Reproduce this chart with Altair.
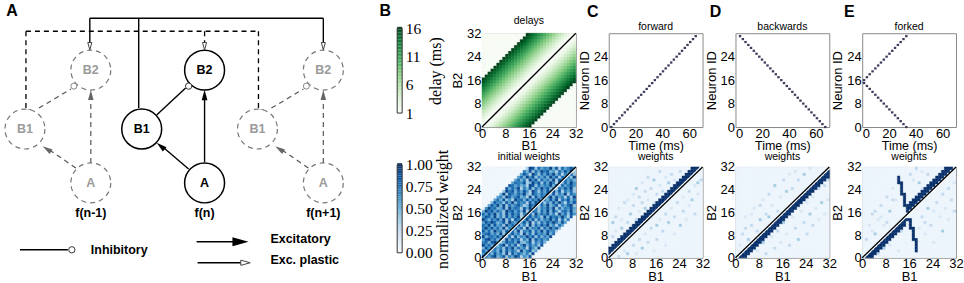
import altair as alt
import pandas as pd

# ------------------------------------------------------------------ data
N = 32
TICKS32 = [0, 8, 16, 24, 32]
band_half_width = 16
delay_by_offset = [1, 1, 2, 3, 4, 5, 6, 7, 8, 9, 10, 11, 12, 13, 14, 15, 16]

# initial weights (digit d -> weight level), row index = B2 (0 at bottom)
init_rows = [
    "86479358264971538462957384615927",
    "59738462918475362948571639482756",
    "74956382847519368247596138472958",
    "38597462859374618529473869152748",
    "95748369274815937462859371648529",
    "67389524867493258164739582647193",
    "48957362948571639285746391857462",
    "93675849271836495827364958172649",
    "57846392758461937285649372851694",
    "84739562847391658274938561749382",
    "69584739265847193658274958361847",
    "75938462957483619274859361748592",
    "48697358296475839162748596384759",
    "96375849271863594827365948172639",
    "58749362847591368475293867495182",
    "74859362948571638294758361947285",
    "39684752968473915862749385167493",
    "85967348295761849372658491736584",
    "67485939274685139682749358164792",
    "94738562849375618495726384951748",
    "58694738251967384759263849175836",
    "73859462974683519284765938461729",
    "49675839286475931864759382649175",
    "86947352968374851962748593816472",
    "57389462847591638274958361748592",
    "94768352987463519827465938174685",
    "68495738294765813958274961837495",
    "75849362958473619582746391857463",
    "49675839261847395826473958174629",
    "86937452968374851962748593716482",
    "57489362847591638274968351748592",
    "94768352987463519827465938174685",
]

fwd_band_offsets = [1, 2, 3]
bwd_band_offsets = [-1, -2, -3]
fork_split_b1 = 15
fork_zigzag = [(12, 28), (12, 27), (12, 26), (13, 26), (13, 25), (13, 24), (13, 23),
               (13, 22), (14, 22), (14, 21), (14, 20), (14, 19), (14, 18), (15, 17),
               (14, 13), (15, 13), (16, 13), (16, 12), (16, 11), (16, 10), (17, 10),
               (17, 9), (17, 8), (17, 7), (17, 6), (18, 6), (18, 5), (18, 4), (18, 3), (18, 2)]

c_faint = [(1, 7, 2), (1, 12, 3), (2, 9, 1), (2, 14, 2), (3, 5, 2), (3, 17, 1), (4, 10, 3), (4, 13, 1),
           (5, 8, 1), (5, 19, 2), (6, 12, 2), (6, 20, 1), (7, 15, 3), (7, 10, 1), (8, 18, 2), (8, 22, 1),
           (9, 13, 2), (9, 24, 3), (10, 16, 1), (10, 21, 2), (11, 19, 2), (11, 26, 1), (12, 17, 3),
           (12, 23, 2), (13, 20, 1), (13, 28, 2), (14, 24, 2), (15, 19, 1), (15, 27, 3), (16, 22, 2),
           (17, 25, 1), (17, 30, 2), (18, 23, 2), (19, 28, 1), (20, 26, 3), (21, 29, 2), (22, 27, 1),
           (24, 30, 2), (3, 0, 2), (5, 2, 1), (6, 1, 3), (8, 4, 2), (9, 1, 1), (10, 6, 2), (11, 3, 3),
           (12, 8, 1), (13, 5, 2), (14, 10, 2), (15, 2, 1), (16, 11, 3), (16, 6, 2), (17, 13, 1),
           (18, 9, 2), (19, 15, 2), (19, 4, 1), (20, 12, 3), (21, 17, 1), (22, 14, 2), (22, 8, 1),
           (23, 19, 2), (24, 11, 3), (25, 21, 1), (25, 16, 2), (26, 13, 1), (27, 23, 2), (27, 18, 1),
           (28, 20, 3), (29, 25, 1), (29, 15, 2), (30, 22, 1), (31, 27, 2), (30, 26, 3)]
d_faint = [(2, 8, 2), (3, 14, 1), (4, 6, 3), (5, 11, 2), (6, 17, 1), (7, 9, 2), (8, 13, 3), (9, 20, 1),
           (10, 15, 2), (11, 22, 2), (12, 18, 1), (13, 25, 3), (14, 16, 2), (15, 21, 1), (16, 27, 2),
           (17, 23, 3), (18, 29, 1), (19, 24, 2), (20, 30, 1), (21, 27, 2), (23, 29, 3), (25, 31, 1),
           (1, 4, 1), (6, 3, 2), (7, 2, 1), (9, 5, 3), (10, 1, 2), (12, 7, 1), (13, 3, 2), (14, 9, 2),
           (15, 5, 1), (16, 12, 3), (17, 8, 1), (18, 4, 2), (19, 14, 1), (20, 10, 2), (21, 6, 3),
           (22, 16, 1), (23, 12, 2), (24, 19, 1), (24, 8, 2), (25, 15, 3), (26, 21, 1), (26, 11, 2),
           (27, 17, 1), (28, 24, 2), (28, 13, 1), (29, 19, 3), (30, 15, 1), (30, 25, 2), (31, 20, 1),
           (31, 27, 2), (3, 10, 2), (5, 15, 1), (8, 18, 2), (11, 14, 3), (4, 1, 1)]
e_faint = [(1, 6, 2), (2, 11, 1), (3, 15, 2), (4, 8, 3), (5, 13, 1), (6, 18, 2), (7, 11, 1), (8, 21, 2),
           (9, 16, 3), (10, 24, 1), (10, 20, 2), (16, 29, 2), (17, 27, 1), (18, 31, 2), (19, 26, 3),
           (20, 30, 1), (22, 29, 2), (2, 0, 1), (5, 1, 2), (7, 3, 3), (9, 4, 1), (10, 7, 2), (12, 2, 1),
           (13, 9, 2), (20, 14, 2), (21, 8, 1), (22, 17, 3), (23, 11, 2), (24, 5, 1), (25, 19, 2),
           (26, 14, 1), (27, 22, 2), (27, 9, 3), (28, 17, 1), (29, 24, 2), (29, 13, 1), (30, 20, 2),
           (31, 26, 1), (31, 16, 2), (19, 10, 1), (21, 12, 2), (24, 16, 1), (6, 14, 1), (4, 16, 2),
           (3, 9, 1), (8, 12, 2), (11, 20, 1), (20, 24, 1)]

# spike rasters (ms, neuron id)
fwd_neurons = list(range(32))
fwd_times = [1.0, 3.0, 5.0, 7.1, 9.1, 11.1, 13.2, 15.2, 17.2, 19.3, 21.3, 23.3, 25.4, 27.4, 29.4, 31.5,
             33.5, 35.5, 37.6, 39.6, 41.6, 43.7, 45.7, 47.7, 49.8, 51.8, 53.8, 55.9, 57.9, 59.9, 62.0, 64.0]
bwd_neurons = list(range(31, -1, -1))
bwd_times = [2.5, 4.6, 6.6, 8.7, 10.7, 12.8, 14.8, 16.9, 18.9, 21.0, 23.0, 25.1, 27.1, 29.2, 31.2, 33.3,
             35.3, 37.4, 39.4, 41.5, 43.5, 45.6, 47.6, 49.7, 51.7, 53.8, 55.8, 57.9, 59.9, 62.0, 64.0, 66.1]
fork_up_neurons = list(range(16, 32))
fork_dn_neurons = list(range(15, -1, -1))
fork_times = [0.5, 2.6, 4.7, 6.8, 8.9, 11.0, 13.1, 15.2, 17.3, 19.4, 21.5, 23.6, 25.7, 27.8, 29.9, 32.0]
dash_ms = 1.8

# diagram (panel A), units in diagram space
node_x = [88, 22, 88, 202, 139, 202, 321, 255, 321]
node_y = [70, 129, 183, 70, 129, 183, 70, 129, 183]
node_label = ["B2", "B1", "A", "B2", "B1", "A", "B2", "B1", "A"]
node_kind = ["ghost"] * 3 + ["main"] * 3 + ["ghost"] * 3

seg_x1 = [87, 87, 136, 321, 202, 186, 154, 17, 194, 195,
          23, 23, 23, 202, 256, 256,
          88, 73, 36, 321, 306, 269]
seg_y1 = [18, 18, 18, 18, 162, 169, 115, 250, 242, 263,
          31, 31, 110, 31, 31, 110,
          163, 168, 108, 163, 168, 108]
seg_x2 = [321, 87, 136, 321, 202, 159, 183, 65, 234, 240,
          256, 23, 28, 202, 256, 262,
          88, 45, 68, 321, 278, 301]
seg_y2 = [18, 45, 108, 45, 99, 146, 88, 250, 242, 263,
          31, 110, 110, 45, 110, 110,
          99, 149, 89, 99, 149, 89]
seg_kind = ["solid"] * 10 + ["bus"] * 6 + ["ghost"] * 6

arrow_x = [202, 158, 238, 88, 44, 321, 277]
arrow_y = [95, 146, 242, 95, 149, 95, 149]
arrow_angle = [0, 310, 90, 0, 303, 0, 303]
arrow_size = [110, 110, 260, 100, 100, 100, 100]
arrow_kind = ["main", "main", "main", "ghost", "ghost", "ghost", "ghost"]

open_arrow_x = [87, 202, 321, 243]
open_arrow_y = [46, 46, 46, 263]
open_arrow_angle = [180, 180, 180, 90]
open_arrow_size = [55, 55, 55, 90]

inhib_x = [186, 71, 304, 69]
inhib_y = [86, 86, 86, 250]
inhib_kind = ["main", "ghost", "ghost", "main"]

label_text = ["f(n-1)", "f(n)", "f(n+1)"]
label_x = [88, 202, 321]
label_y = [213, 213, 213]
legend_text = ["Inhibitory", "Excitatory", "Exc. plastic"]
legend_x = [88, 268, 268]
legend_y = [250, 239, 260]

panel_letters = ["A", "B", "C", "D", "E"]
panel_letter_x = [9, 383, 591, 714, 848]
panel_letter_y = [11, 11, 12, 12, 12]

BLUES = ["#f7fbff", "#deebf7", "#c6dbef", "#9ecae1", "#6baed6", "#4292c6", "#2171b5", "#08519c", "#08306b"]
GREENS = ["#f7fcf5", "#e5f5e0", "#c7e9c0", "#a1d99b", "#74c476", "#41ab5d", "#238b45", "#006d2c", "#00441b"]

FONT = "Liberation Sans"
SERIF = "Liberation Serif"

PW, PH_TOP, PH_BOT = 94, 94, 91
FRAME = alt.ViewBackground(stroke="#8a8a8a", strokeWidth=1)


def green_scale():
    return alt.Scale(domain=[1 + 15 * i / 8 for i in range(9)], range=GREENS, clamp=True)


def blue_scale():
    return alt.Scale(domain=[i / 8 for i in range(9)], range=BLUES, clamp=True)


# ------------------------------------------------------------------ builders
def delay_df():
    rows = []
    for b2 in range(N):
        for b1 in range(N):
            off = abs(b2 - b1)
            v = delay_by_offset[off] if off <= band_half_width else 0
            rows.append(dict(b1=b1, b1e=b1 + 1, b2=b2, b2e=b2 + 1, v=v))
    return pd.DataFrame(rows)


def init_df():
    rows = []
    for b2 in range(N):
        for b1 in range(N):
            off = abs(b2 - b1)
            v = 0.25 + 0.075 * int(init_rows[b2][b1]) if off <= band_half_width else 0.03
            rows.append(dict(b1=b1, b1e=b1 + 1, b2=b2, b2e=b2 + 1, v=v))
    return pd.DataFrame(rows)


def final_df(faint, band_fn, extra=()):
    vals = {}
    for b1, b2, d in faint:
        vals[(b1, b2)] = d / 10 + 0.06
    for b1 in range(N):
        for off in band_fn(b1):
            b2 = b1 + off
            if 0 <= b2 < N:
                vals[(b1, b2)] = 1.0
    for c in extra:
        vals[c] = 1.0
    rows = []
    for b2 in range(N):
        for b1 in range(N):
            rows.append(dict(b1=b1, b1e=b1 + 1, b2=b2, b2e=b2 + 1, v=vals.get((b1, b2), 0.05)))
    return pd.DataFrame(rows)


def axis32(title, xaxis):
    return alt.Axis(values=TICKS32, tickCount=10, title=title, labelFontSize=13, titleFontSize=13,
                    titleFontWeight="normal", domain=False, ticks=False, grid=False,
                    labelPadding=0 if xaxis else 1, titlePadding=0 if xaxis else 2,
                    labelFlush=False, labelOverlap=False)


def heat(df, scale, title, white_off=None, height=PH_TOP, title_offset=1):
    sc = alt.Scale(domain=[0, 32], nice=False, zero=False)
    xax, yax = axis32("B1", True), axis32("B2", False)
    rect = alt.Chart(df).mark_rect(strokeWidth=0.4).encode(
        x=alt.X("b1:Q", scale=sc, axis=xax),
        x2="b1e:Q",
        y=alt.Y("b2:Q", scale=sc, axis=yax),
        y2="b2e:Q",
        color=alt.Color("v:Q", scale=scale, legend=None),
        stroke=alt.Stroke("v:Q", scale=scale, legend=None),
    )
    layers = [rect]
    if white_off is not None:
        wd = pd.DataFrame(dict(x=[max(0, -white_off)], y=[max(0, white_off)],
                               x2=[32 - max(0, white_off)], y2=[32 - max(0, -white_off)]))
        layers.append(alt.Chart(wd).mark_rule(color="white", strokeWidth=1.3).encode(
            x=alt.X("x:Q", axis=xax), y=alt.Y("y:Q", axis=yax), x2="x2:Q", y2="y2:Q"))
    dd = pd.DataFrame(dict(x=[0], y=[0], x2=[32], y2=[32]))
    layers.append(alt.Chart(dd).mark_rule(color="black", strokeWidth=1.3).encode(
        x=alt.X("x:Q", axis=xax), y=alt.Y("y:Q", axis=yax), x2="x2:Q", y2="y2:Q"))
    return alt.layer(*layers).properties(
        width=PW, height=height, view=FRAME,
        title=alt.TitleParams(title, fontSize=10.5, font=FONT, fontWeight="normal", offset=title_offset))


def raster(times, neurons, title):
    df = pd.DataFrame(dict(t=times, n=neurons))
    df["t2"] = df["t"] + dash_ms
    return alt.Chart(df).mark_rule(color="#3b3b5c", strokeWidth=2.2).encode(
        x=alt.X("t:Q", scale=alt.Scale(domain=[0, 70], nice=False),
                axis=alt.Axis(values=[0, 20, 40, 60], tickCount=10, title="Time (ms)", labelFontSize=13,
                              titleFontSize=12.5, titleFontWeight="normal", domain=False,
                              ticks=False, grid=False, labelPadding=0, titlePadding=0,
                              labelOverlap=False)),
        x2="t2:Q",
        y=alt.Y("n:Q", scale=alt.Scale(domain=[0, 32], nice=False),
                axis=alt.Axis(values=[0, 8, 16, 24], tickCount=10, title="Neuron ID", labelFontSize=13,
                              titleFontSize=13, titleFontWeight="normal", domain=False,
                              ticks=False, grid=False, labelPadding=1, titlePadding=2,
                              labelOverlap=False)),
    ).properties(
        width=PW, height=PH_TOP, view=FRAME,
        title=alt.TitleParams(title, fontSize=10.5, font=FONT, fontWeight="normal", offset=1))


def colorbar(seq_start, seq_stop, step, scale, ydom, values, fmt, title, h, pix_range, title_x):
    ysc = alt.Scale(domain=ydom, range=pix_range, nice=False, zero=False)
    yax = alt.Axis(orient="right", values=values, tickCount=12, format=fmt, title=title,
                   labelFont=SERIF, titleFont=SERIF, labelFontSize=15.5,
                   titleFontSize=16, titleFontWeight="normal", titleAngle=270,
                   titleX=title_x, titleY=(pix_range[0] + pix_range[1]) / 2,
                   titleAlign="center", titleBaseline="middle",
                   domain=False, ticks=False, grid=False, labelPadding=3,
                   labelFlush=False, labelOverlap=False)
    bar = alt.Chart(alt.sequence(seq_start, seq_stop, step, as_="v")).transform_calculate(
        v2=f"datum.v + {step}").mark_rect().encode(
        x=alt.value(0), x2=alt.value(5),
        y=alt.Y("v:Q", scale=ysc, axis=yax),
        y2="v2:Q",
        color=alt.Color("v:Q", scale=scale, legend=None),
    )
    border = alt.Chart(pd.DataFrame(dict(lo=[ydom[0]], hi=[ydom[1]]))).mark_rect(
        fill=None, stroke="#333333", strokeWidth=1).encode(
        x=alt.value(0), x2=alt.value(5), y=alt.Y("lo:Q", scale=ysc, axis=yax), y2="hi:Q")
    return alt.layer(bar, border).properties(
        width=5, height=h, view=alt.ViewBackground(stroke=None))


def spacer(w, h):
    return alt.Chart(pd.DataFrame(dict(a=[0]))).mark_point(opacity=0).encode(
        x=alt.value(0), y=alt.value(0)).properties(width=w, height=h, view=alt.ViewBackground(stroke=None))


# ------------------------------------------------------------------ panel A
xs = alt.Scale(domain=[0, 362], nice=False, zero=False)
ys = alt.Scale(domain=[33, 33 + PH_TOP], nice=False, zero=False, reverse=True)
X = lambda f: alt.X(f, scale=xs, axis=None)
Y = lambda f: alt.Y(f, scale=ys, axis=None)

seg = pd.DataFrame(dict(x=seg_x1, y=seg_y1, x2=seg_x2, y2=seg_y2, k=seg_kind))
nodes = pd.DataFrame(dict(x=node_x, y=node_y, s=node_label, k=node_kind))
arrows = pd.DataFrame(dict(x=arrow_x, y=arrow_y, a=arrow_angle, sz=arrow_size, k=arrow_kind))
oarrows = pd.DataFrame(dict(x=open_arrow_x, y=open_arrow_y, a=open_arrow_angle, sz=open_arrow_size))
inhib = pd.DataFrame(dict(x=inhib_x, y=inhib_y, k=inhib_kind))
flabels = pd.DataFrame(dict(x=label_x, y=label_y, s=label_text))
legtext = pd.DataFrame(dict(x=legend_x, y=legend_y, s=legend_text))
letters = pd.DataFrame(dict(x=panel_letter_x, y=panel_letter_y, s=panel_letters))
ARROW = "M0,-1L0.55,1L-0.55,1Z"

segs_solid = alt.Chart(seg).transform_filter("datum.k == 'solid'").mark_rule(
    color="black", strokeWidth=1.4).encode(x=X("x:Q"), y=Y("y:Q"), x2="x2:Q", y2="y2:Q")
segs_bus = alt.Chart(seg).transform_filter("datum.k == 'bus'").mark_rule(
    color="black", strokeWidth=1.3, strokeDash=[5, 4]).encode(x=X("x:Q"), y=Y("y:Q"), x2="x2:Q", y2="y2:Q")
segs_ghost = alt.Chart(seg).transform_filter("datum.k == 'ghost'").mark_rule(
    color="#555555", strokeWidth=1.2, strokeDash=[5, 4]).encode(x=X("x:Q"), y=Y("y:Q"), x2="x2:Q", y2="y2:Q")
circ_main = alt.Chart(nodes).transform_filter("datum.k == 'main'").mark_point(
    shape="circle", size=1600, filled=False, fill="white", fillOpacity=1, color="black",
    strokeWidth=1.5, opacity=1).encode(x=X("x:Q"), y=Y("y:Q"))
circ_ghost = alt.Chart(nodes).transform_filter("datum.k == 'ghost'").mark_point(
    shape="circle", size=1600, filled=False, fill="white", fillOpacity=1, color="#777777",
    strokeWidth=1.2, strokeDash=[5, 4], opacity=1).encode(x=X("x:Q"), y=Y("y:Q"))
txt_main = alt.Chart(nodes).transform_filter("datum.k == 'main'").mark_text(
    font=FONT, fontSize=12.5, fontWeight="bold", color="black").encode(x=X("x:Q"), y=Y("y:Q"), text="s:N")
txt_ghost = alt.Chart(nodes).transform_filter("datum.k == 'ghost'").mark_text(
    font=FONT, fontSize=12.5, fontWeight="bold", color="#9a9a9a").encode(x=X("x:Q"), y=Y("y:Q"), text="s:N")
arr_main = alt.Chart(arrows).transform_filter("datum.k == 'main'").mark_point(
    shape=ARROW, filled=True, color="black", opacity=1).encode(
    x=X("x:Q"), y=Y("y:Q"), angle=alt.Angle("a:Q", scale=None), size=alt.Size("sz:Q", scale=None, legend=None))
arr_ghost = alt.Chart(arrows).transform_filter("datum.k == 'ghost'").mark_point(
    shape=ARROW, filled=True, color="#666666", opacity=1).encode(
    x=X("x:Q"), y=Y("y:Q"), angle=alt.Angle("a:Q", scale=None), size=alt.Size("sz:Q", scale=None, legend=None))
arr_open = alt.Chart(oarrows).mark_point(
    shape=ARROW, filled=False, fill="white", fillOpacity=1, color="#444444", strokeWidth=1, opacity=1).encode(
    x=X("x:Q"), y=Y("y:Q"), angle=alt.Angle("a:Q", scale=None), size=alt.Size("sz:Q", scale=None, legend=None))
inh_main = alt.Chart(inhib).transform_filter("datum.k == 'main'").mark_point(
    shape="circle", size=40, filled=False, fill="white", fillOpacity=1, color="#333333",
    strokeWidth=1, opacity=1).encode(x=X("x:Q"), y=Y("y:Q"))
inh_ghost = alt.Chart(inhib).transform_filter("datum.k == 'ghost'").mark_point(
    shape="circle", size=36, filled=False, fill="white", fillOpacity=1, color="#888888",
    strokeWidth=1, opacity=1).encode(x=X("x:Q"), y=Y("y:Q"))
f_txt = alt.Chart(flabels).mark_text(font=FONT, fontSize=12.5, fontWeight="bold", color="black").encode(
    x=X("x:Q"), y=Y("y:Q"), text="s:N")
leg_txt = alt.Chart(legtext).mark_text(font=FONT, fontSize=12.5, fontWeight="bold", color="black",
                                        align="left").encode(x=X("x:Q"), y=Y("y:Q"), text="s:N")
letter_txt = alt.Chart(letters).mark_text(
    font=FONT, fontSize=16, fontWeight="bold", color="black").encode(x=X("x:Q"), y=Y("y:Q"), text="s:N")

panelA = alt.layer(segs_solid, segs_bus, segs_ghost, circ_main, circ_ghost, txt_main, txt_ghost,
                   arr_main, arr_ghost, arr_open, inh_main, inh_ghost, f_txt, leg_txt, letter_txt).properties(
    width=362, height=PH_TOP, view=alt.ViewBackground(stroke=None))

# ------------------------------------------------------------------ panels B-E
cb_green = colorbar(1, 16.0001, 0.25, green_scale(), [1, 16], [1, 6, 11, 16], "d", "delay (ms)",
                    PH_TOP, [80, -5], 33)
cb_blue = colorbar(0, 1.0001, 0.02, blue_scale(), [0, 1], [0, 0.25, 0.5, 0.75, 1.0], ".2f",
                   "normalized weight", PH_BOT, [86, -2], 40)

delays = heat(delay_df(), green_scale(), "delays")
initw = heat(init_df(), blue_scale(), "initial weights", white_off=-0.55, height=PH_BOT, title_offset=-2)
fwd = raster(fwd_times, fwd_neurons, "forward")
wC = heat(final_df(c_faint, lambda b1: fwd_band_offsets), blue_scale(), "weights", white_off=0.55,
          height=PH_BOT, title_offset=-2)
bwd = raster(bwd_times, bwd_neurons, "backwards")
wD = heat(final_df(d_faint, lambda b1: bwd_band_offsets), blue_scale(), "weights", white_off=-0.55,
          height=PH_BOT, title_offset=-2)
fork = raster(fork_times + fork_times, fork_up_neurons + fork_dn_neurons, "forked")
wE = heat(final_df(e_faint, lambda b1: bwd_band_offsets if b1 < fork_split_b1 else fwd_band_offsets,
                   extra=fork_zigzag), blue_scale(), "weights", white_off=-0.55, height=PH_BOT,
          title_offset=-2)

chart = alt.concat(
    panelA, cb_green, spacer(14, PH_TOP), delays, fwd, bwd, fork,
    spacer(362, PH_BOT), cb_blue, spacer(14, PH_BOT), initw, wC, wD, wE,
    columns=7, spacing={"row": 40, "column": 33}, bounds="flush", align="each",
).resolve_scale(x="independent", y="independent", color="independent", stroke="independent").properties(
    padding={"left": 0, "top": 3, "right": 0, "bottom": 0}, background="white"
).configure_axis(labelFont=FONT, titleFont=FONT, labelColor="black", titleColor="black"
).configure_view(stroke="#8a8a8a")

chart.save("out.html", embed_options={"renderer": "svg", "actions": False})
